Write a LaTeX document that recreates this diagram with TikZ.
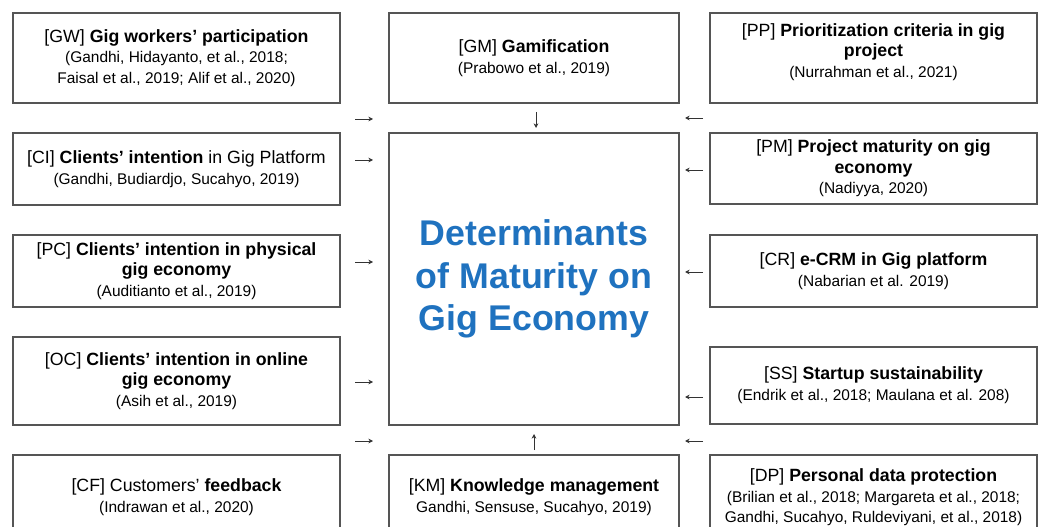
\documentclass[tikz,border=0pt]{standalone}
\usepackage{fontspec}
\setmainfont{Liberation Sans}
\usetikzlibrary{arrows.meta}

\definecolor{boxline}{RGB}{85,85,85}
\definecolor{titleblue}{RGB}{31,114,191}

\newcommand{\srcs}[1]{{\fontsize{11.6}{15.5}\selectfont #1}}

\tikzset{
	factor/.style={draw=boxline, line width=1pt, align=center, inner sep=2pt,
		font=\fontsize{13.3}{15.5}\selectfont},
	side/.style={factor, minimum width=245.25pt},
	mid/.style={factor, minimum width=217.5pt},
	arrow/.style={draw=black!80, line width=0.6pt, -{Stealth[length=3.5pt,width=3.5pt]}}
}

\begin{document}
\begin{tikzpicture}[x=0.75pt, y=-0.75pt]
	\useasboundingbox (0,0) rectangle (1042,527);
	\clip (0,0) rectangle (1042,527);

	\node[side, minimum height=67.5pt] (gw) at (176.5,58) {[GW] \textbf{Gig workers' participation}\\ \srcs{(Gandhi, Hidayanto, et al., 2018;}\\ \srcs{Faisal et al., 2019; Alif et al., 2020)}};
	\node[side, minimum height=54pt] (ci) at (176.5,169) {[CI] \textbf{Clients' intention} in Gig Platform\\ \srcs{(Gandhi, Budiardjo, Sucahyo, 2019)}};
	\node[side, minimum height=54pt] (pc) at (176.5,271) {[PC] \textbf{Clients' intention in physical}\\ \textbf{gig economy}\\ \srcs{(Auditianto et al., 2019)}};
	\node[side, minimum height=66pt] (oc) at (176.5,381) {[OC] \textbf{Clients' intention in online}\\ \textbf{gig economy}\\ \srcs{(Asih et al., 2019)}};
	\node[side, minimum height=63.75pt] (cf) at (176.5,497.5) {[CF] Customers' \textbf{feedback}\\ \srcs{(Indrawan et al., 2020)}};

	\node[mid, minimum height=67.5pt] (gm) at (534,58) {[GM] \textbf{Gamification}\\ \srcs{(Prabowo et al., 2019)}};
	\node[mid, minimum height=219pt, text=titleblue, font=\bfseries\fontsize{26.8}{32}\selectfont] (maturity) at (534,279) {Determinants\\ of Maturity on\\ Gig Economy};
	\node[mid, minimum height=63.75pt] (km) at (534,497.5) {[KM] \textbf{Knowledge management}\\ \srcs{Gandhi, Sensuse, Sucahyo, 2019)}};

	\node[side, minimum height=67.5pt] (pp) at (873.5,58) {[PP] \textbf{Prioritization criteria in gig}\\ \textbf{project}\\ \srcs{(Nurrahman et al., 2021)}\\[-4pt] \mbox{}};
	\node[side, minimum height=53.25pt] (pm) at (873.5,168.5) {[PM] \textbf{Project maturity on gig}\\ \textbf{economy}\\ \srcs{(Nadiyya, 2020)}};
	\node[side, minimum height=54pt] (cr) at (873.5,271) {[CR] \textbf{e-CRM in Gig platform}\\ \srcs{(Nabarian et al. 2019)}};
	\node[side, minimum height=57.75pt] (ss) at (873.5,385.5) {[SS] \textbf{Startup sustainability}\\ \srcs{(Endrik et al., 2018; Maulana et al. 208)}};
	\node[side, minimum height=63.75pt] (dp) at (873.5,497.5) {[DP] \textbf{Personal data protection}\\ \srcs{(Brilian et al., 2018; Margareta et al., 2018;}\\ \srcs{Gandhi, Sucahyo, Ruldeviyani, et al., 2018)}};

	\foreach \n/\y in {1/119,2/160,3/262,4/382,5/441} {
		\coordinate (inl\n) at (355,\y);
		\draw[arrow] (inl\n) -- ++(18,0);
	}
	\foreach \n/\y in {1/118,2/170,3/272,4/397,5/441} {
		\coordinate (inr\n) at (703,\y);
		\draw[arrow] (inr\n) -- ++(-18,0);
	}

	\coordinate (ingm) at (536,112);
	\draw[arrow] (ingm) -- ++(0,16);
	\coordinate (inkm) at (534,450);
	\draw[arrow] (inkm) -- ++(0,-16);

\end{tikzpicture}
\end{document}
